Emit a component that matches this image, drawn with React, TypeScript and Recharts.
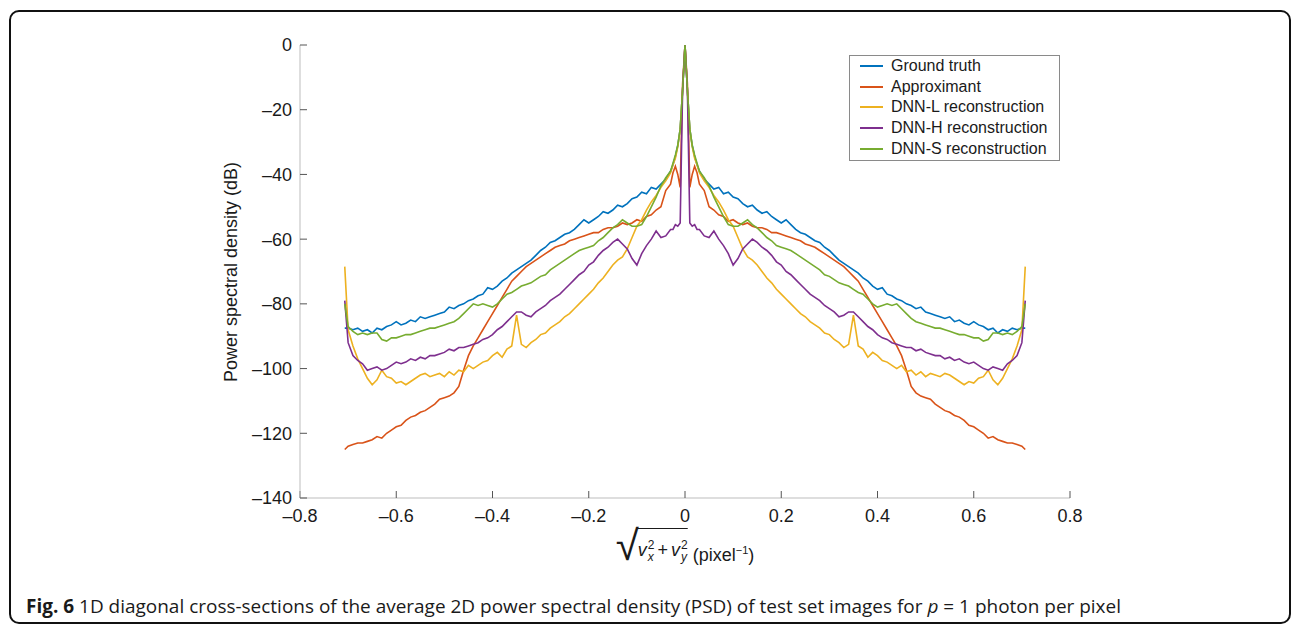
import React from 'react'
import { LineChart, Line, XAxis, YAxis, Legend } from 'recharts'

// positions along one half of the diagonal (pixel^-1); the PSD cross-section is symmetric about 0
const HALF_X = [
  0, 0.005, 0.01, 0.015, 0.02, 0.025, 0.03, 0.04, 0.05, 0.06, 0.07, 0.08, 0.09, 0.1,
  0.11, 0.12, 0.13, 0.14, 0.15, 0.16, 0.17, 0.18, 0.19, 0.2, 0.21, 0.22, 0.23, 0.24,
  0.25, 0.26, 0.27, 0.28, 0.29, 0.3, 0.31, 0.32, 0.33, 0.34, 0.35, 0.36, 0.37, 0.38,
  0.39, 0.4, 0.41, 0.42, 0.43, 0.44, 0.45, 0.46, 0.47, 0.48, 0.49, 0.5, 0.51, 0.52,
  0.53, 0.54, 0.55, 0.56, 0.57, 0.58, 0.59, 0.6, 0.61, 0.62, 0.63, 0.64, 0.65, 0.66,
  0.67, 0.68, 0.69, 0.7, 0.707
]

// dB values read at HALF_X
const GROUND_TRUTH = [
  0, -14, -26, -31, -34.5, -37, -39, -41.5, -43, -44.5, -44, -46, -45.5, -47,
  -47.5, -49, -50, -49.5, -51, -52, -51.5, -53, -54, -55, -54, -55.5, -57, -58,
  -58.5, -59.5, -60.5, -61, -62.5, -63.5, -65, -66.5, -67.5, -68.5, -69.5, -70.5, -72, -73,
  -74.5, -75.5, -75, -77, -77.5, -78.5, -79, -80, -80.5, -81.5, -81, -82.5, -83, -83.5,
  -84, -84.5, -84, -85.5, -85, -86, -86.5, -85.5, -86.5, -87, -88, -87.5, -89, -88,
  -88.5, -87.5, -88, -87.5, -87.5
]
const APPROXIMANT = [
  0, -12, -44, -40, -37.5, -39.5, -43, -45, -50, -51, -52.5, -53, -54.5, -54,
  -55, -55.5, -55, -56, -56.5, -56.5, -57, -58, -58, -58.5, -59, -59.5, -60, -60.5,
  -61.5, -62, -62.5, -63.5, -64.5, -65.5, -66.5, -67.5, -68.5, -70, -71.5, -73, -75.5, -78,
  -80.5, -83, -85.5, -88, -90.5, -93, -96, -100.5, -105.5, -107.5, -108.5, -109, -109.5, -111,
  -112, -113, -113.5, -114.5, -115, -116, -117.5, -118, -119, -120, -121.5, -121, -122, -122.5,
  -123, -123, -123.5, -124, -125
]
const DNN_L = [
  0, -14, -26, -31.5, -35, -37, -39.5, -42, -44, -46.5, -48.5, -51, -54, -56,
  -59.5, -63, -65.5, -66.5, -68, -70, -72, -73.5, -75.5, -77, -78.5, -80, -81.5, -83,
  -84, -85.5, -86.5, -87.5, -89, -89.5, -91, -92, -93.5, -92.5, -83.5, -93, -94, -96.5,
  -95, -96, -97.5, -98, -99, -100, -99, -101, -100.5, -102, -101, -102.5, -101.5, -102,
  -102.5, -101.5, -102, -103, -104, -105, -104, -104.5, -103, -102.5, -100.5, -103.5, -105, -103,
  -100, -97, -93, -88, -68.5
]
const DNN_H = [
  0, -14, -55, -56, -55.5, -57, -57, -59, -59.5, -57.5, -60, -62, -64.5, -68,
  -66, -63, -61.5, -60, -61, -62.5, -63.5, -65, -67, -68, -70, -71, -72.5, -74,
  -75.5, -77, -78, -79, -80.5, -81.5, -82.5, -84, -83.5, -82.5, -82.5, -84, -85.5, -87,
  -88, -89.5, -90.5, -91, -92, -92.5, -93, -93.5, -93.5, -94.5, -94, -95, -95.5, -96,
  -96, -97, -96.5, -97.5, -97, -98, -98.5, -98, -99, -100, -100.5, -99.5, -100, -100.5,
  -98.5, -97.5, -96, -92, -79
]
const DNN_S = [
  0, -14, -26, -31, -34, -36.5, -39, -41, -43.5, -47, -50, -53, -55.5, -56,
  -56, -55, -54, -55.5, -56.5, -58, -59.5, -60.5, -62, -62.5, -63, -63.5, -64.5, -65.5,
  -66.5, -67.5, -68.5, -69.5, -71, -71.5, -72.5, -73.5, -74, -74.5, -75.5, -76.5, -77, -78.5,
  -80, -81, -80.5, -80, -80.5, -80, -81.5, -83, -84.5, -85.5, -86, -86.5, -87, -87.5,
  -87.5, -88, -88.5, -89, -89.5, -89.5, -90, -90.5, -90.5, -91.5, -91, -89, -89, -89.5,
  -89, -89.5, -88.5, -87, -80
]

const X_TICKS = [-0.8, -0.6, -0.4, -0.2, 0, 0.2, 0.4, 0.6, 0.8]
const Y_TICKS = [-140, -120, -100, -80, -60, -40, -20, 0]

const SERIES = [
  { key: 'gt', name: 'Ground truth', color: '#0072BD', values: GROUND_TRUTH },
  { key: 'ap', name: 'Approximant', color: '#D95319', values: APPROXIMANT },
  { key: 'dl', name: 'DNN-L reconstruction', color: '#EDB120', values: DNN_L },
  { key: 'dh', name: 'DNN-H reconstruction', color: '#7E2F8E', values: DNN_H },
  { key: 'ds', name: 'DNN-S reconstruction', color: '#77AC30', values: DNN_S }
]

const makeRow = (x: number, i: number) => {
  const row: Record<string, number> = { x }
  SERIES.forEach(s => { row[s.key] = s.values[i] })
  return row
}

const data: Record<string, number>[] = []
for (let i = HALF_X.length - 1; i > 0; i--) data.push(makeRow(-HALF_X[i], i))
for (let i = 0; i < HALF_X.length; i++) data.push(makeRow(HALF_X[i], i))

const FONT = '"Liberation Sans", Arial, Helvetica, sans-serif'
const FRAME = '#bdbdbd'
const TICK = '#555'

const fmt = (v: number) => (v === 0 ? '0' : String(v)).replace('-', '\u2013')
const fmtX = (v: number) => (v === 0 ? '0' : v.toFixed(1)).replace('-', '\u2013')

// legend keeps the plotting order (recharts sorts payload by name otherwise)
const LegendBox = ({ payload }: any) => {
  const items = [...(payload || [])].sort(
    (a: any, b: any) => SERIES.findIndex(s => s.name === a.value) - SERIES.findIndex(s => s.name === b.value)
  )
  return (
    <div style={{
      width: 211, height: 106, boxSizing: 'border-box', border: '1px solid #8a8a8a',
      background: '#fff', fontFamily: FONT, fontSize: 16, color: '#1a1a1a'
    }}>
      {items.map((p: any) => (
        <div key={p.value} style={{ display: 'flex', alignItems: 'center', height: 20.6, whiteSpace: 'nowrap' }}>
          <span style={{ display: 'inline-block', width: 23, borderTop: `2px solid ${p.color}`, marginLeft: 10, marginRight: 8 }} />
          {p.value}
        </div>
      ))}
    </div>
  )
}

const Stack = ({ sub }: { sub: string }) => (
  <span style={{ display: 'inline-flex', flexDirection: 'column', fontSize: 12, lineHeight: '12px', marginLeft: 1, verticalAlign: 'middle' }}>
    <span>2</span>
    <span style={{ fontStyle: 'italic' }}>{sub}</span>
  </span>
)

export default function App() {
  return (
    <div style={{ position: 'absolute', left: 0, top: 0, width: 1295, height: 627, background: '#fff' }}>
      <div style={{
        position: 'absolute', left: 9, top: 10, width: 1282, height: 614, boxSizing: 'border-box',
        border: '2px solid #111', borderRadius: 10
      }} />

      <div style={{ position: 'absolute', left: 0, top: 0 }}>
        <LineChart width={1295} height={627} data={data} margin={{ top: 45, right: 225, bottom: 99, left: 240 }}>
          <XAxis
            dataKey="x" type="number" domain={[-0.8, 0.8]} ticks={X_TICKS} height={30}
            tickFormatter={fmtX} tickSize={-7} tickMargin={18} interval={0}
            axisLine={{ stroke: FRAME }} tickLine={{ stroke: TICK }}
            tick={{ fill: '#1a1a1a', fontSize: 18, fontFamily: FONT }}
          />
          <XAxis
            xAxisId="top" orientation="top" type="number" domain={[-0.8, 0.8]} ticks={X_TICKS}
            height={0} tickFormatter={() => ''} tickSize={-7} interval={0}
            axisLine={{ stroke: FRAME }} tickLine={{ stroke: TICK }}
          />
          <YAxis
            type="number" domain={[-140, 0]} ticks={Y_TICKS} width={60} interval={0}
            tickFormatter={fmt} tickSize={-7} tickMargin={15}
            axisLine={{ stroke: FRAME }} tickLine={{ stroke: TICK }}
            tick={{ fill: '#1a1a1a', fontSize: 18, fontFamily: FONT }}
          />
          <YAxis
            yAxisId="right" orientation="right" type="number" domain={[-140, 0]} ticks={Y_TICKS}
            width={0} interval={0} tickFormatter={() => ''} tickSize={-7}
            axisLine={{ stroke: FRAME }} tickLine={{ stroke: TICK }}
          />
          {SERIES.map(s => (
            <Line
              key={s.key} dataKey={s.key} name={s.name} type="linear" stroke={s.color}
              strokeWidth={1.6} dot={false} activeDot={false} isAnimationActive={false}
            />
          ))}
          <Legend
            content={LegendBox} layout="vertical" align="center" verticalAlign="middle"
            wrapperStyle={{ left: 849, top: 55, width: 211, height: 106 }}
          />
        </LineChart>
      </div>

      <div style={{
        position: 'absolute', left: 231, top: 271.5, transform: 'translate(-50%, -50%) rotate(-90deg)',
        fontFamily: FONT, fontSize: 18, color: '#1a1a1a', whiteSpace: 'nowrap'
      }}>
        Power spectral density (dB)
      </div>

      <div style={{
        position: 'absolute', left: 685, top: 522, transform: 'translateX(-50%)', display: 'flex',
        alignItems: 'flex-end', fontFamily: FONT, fontSize: 18, color: '#1a1a1a', whiteSpace: 'nowrap'
      }}>
        <span style={{ fontSize: 42, lineHeight: '48px', marginRight: -1 }}>{'\u221A'}</span>
        <span style={{ borderTop: '1.5px solid #1a1a1a', paddingTop: 4, display: 'inline-flex', alignItems: 'center', height: 40, boxSizing: 'border-box', marginBottom: 2 }}>
          <i>v</i><Stack sub="x" /><span style={{ margin: '0 3px' }}>+</span><i>v</i><Stack sub="y" />
        </span>
        <span style={{ marginLeft: 5, lineHeight: '30px' }}>
          (pixel<sup style={{ fontSize: 11 }}>{'\u22121'}</sup>)
        </span>
      </div>

      <svg width={1295} height={627} style={{ position: 'absolute', left: 0, top: 0, pointerEvents: 'none' }}>
        <text x={26} y={613} fontFamily='"Open Sans", "Noto Sans", sans-serif' fontSize={19} fill="#1a1a1a"
          textLength={1095} lengthAdjust="spacingAndGlyphs">
          <tspan fontWeight="bold">Fig. 6</tspan>
          <tspan> 1D diagonal cross-sections of the average 2D power spectral density (PSD) of test set images for </tspan>
          <tspan fontStyle="italic">p</tspan>
          <tspan> = 1 photon per pixel</tspan>
        </text>
      </svg>
    </div>
  )
}
